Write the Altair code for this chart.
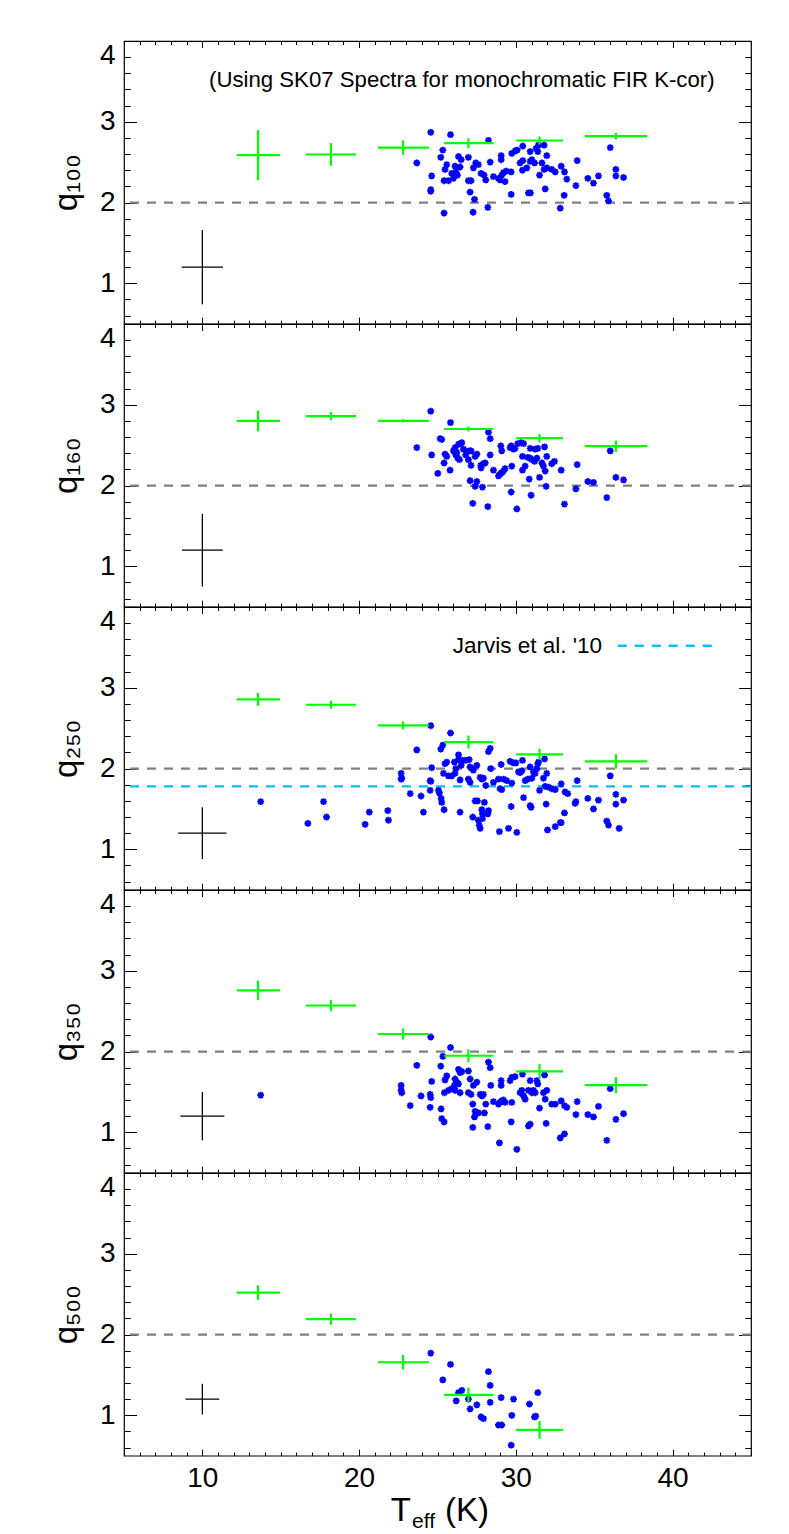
import altair as alt
import pandas as pd

FONT = "Liberation Sans"
W = 627
H = 282.7

T_DOMAIN = [5, 45]
Q_DOMAIN = [0.5, 4.0]
X_TICK_VALUES = list(range(5, 46))
X_LABEL_VALUES = [10, 20, 30, 40]
Y_TICK_VALUES = [0.6, 0.8, 1.0, 1.2, 1.4, 1.6, 1.8, 2.0, 2.2, 2.4, 2.6, 2.8,
                 3.0, 3.2, 3.4, 3.6, 3.8, 4.0]
Y_LABEL_VALUES = [1, 2, 3, 4]
PANEL_TITLES = ["q\u2081\u2080\u2080", "q\u2081\u2086\u2080", "q\u2082\u2085\u2080",
                "q\u2083\u2085\u2080", "q\u2085\u2080\u2080"]

# ---- individual galaxies (T_eff [K], q) ----
P1 = [(24.57, 2.87), (25.83, 2.84), (28.25, 2.77), (25.34, 2.65), (25.21, 2.56), (23.68, 2.49),
      (26.34, 2.57), (26.97, 2.56), (26.51, 2.53), (25.59, 2.47), (25.48, 2.41), (26.12, 2.45),
      (26.17, 2.38), (26.44, 2.44), (25.91, 2.36), (26.27, 2.34), (24.63, 2.33), (25.42, 2.27),
      (25.70, 2.27), (26.02, 2.30), (26.97, 2.27), (27.14, 2.27), (27.44, 2.49), (27.29, 2.43),
      (27.61, 2.47), (27.78, 2.36), (27.97, 2.34), (28.08, 2.28), (28.36, 2.50), (28.57, 2.32),
      (28.89, 2.30), (28.99, 2.28), (29.10, 2.34), (29.21, 2.37), (29.38, 2.39), (29.31, 2.26),
      (29.06, 2.53), (29.06, 2.58), (29.70, 2.38), (29.74, 2.61), (29.95, 2.64), (30.08, 2.65),
      (29.70, 2.10), (30.44, 2.70), (30.27, 2.49), (30.44, 2.52), (30.42, 2.40), (30.70, 2.43),
      (30.91, 2.63), (30.91, 2.51), (31.02, 2.53), (31.19, 2.49), (31.29, 2.67), (31.40, 2.63),
      (31.44, 2.71), (31.80, 2.71), (31.66, 2.49), (31.97, 2.58), (31.80, 2.41), (31.97, 2.43),
      (31.51, 2.34), (31.87, 2.17), (32.29, 2.41), (32.51, 2.38), (32.89, 2.45), (33.10, 2.38),
      (33.25, 2.29), (32.83, 1.93), (33.08, 2.09), (30.93, 2.12), (30.80, 2.12), (33.83, 2.21),
      (33.91, 2.52), (34.59, 2.30), (34.95, 2.24), (35.27, 2.33), (35.80, 2.09), (35.91, 2.02),
      (36.02, 2.68), (36.38, 2.41), (36.38, 2.33), (36.87, 2.31), (24.57, 2.16), (24.57, 2.14),
      (25.42, 1.87), (27.08, 2.13), (27.36, 2.04), (27.27, 1.88), (28.21, 1.94)]

P2 = [(24.57, 2.92), (25.83, 2.78), (28.25, 2.66), (28.36, 2.58), (23.68, 2.47), (25.17, 2.58),
      (25.27, 2.57), (24.63, 2.38), (25.02, 2.15), (25.42, 2.28), (25.48, 2.39), (25.59, 2.36),
      (25.80, 2.19), (26.02, 2.43), (26.12, 2.47), (26.17, 2.38), (26.29, 2.34), (26.34, 2.51),
      (26.44, 2.52), (26.55, 2.53), (26.23, 2.41), (26.40, 2.32), (26.66, 2.45), (26.80, 2.38),
      (27.02, 2.43), (27.14, 2.43), (26.97, 2.32), (27.14, 2.25), (27.51, 2.39), (27.40, 2.36),
      (27.78, 2.22), (27.93, 2.27), (27.76, 2.25), (28.04, 2.28), (28.36, 2.38), (28.57, 2.19),
      (28.89, 2.12), (28.99, 2.14), (29.10, 2.16), (29.21, 2.18), (29.31, 2.21), (29.74, 2.24),
      (29.04, 2.49), (29.10, 2.43), (29.63, 2.47), (29.70, 2.49), (29.85, 2.45), (29.95, 2.46),
      (30.12, 2.52), (30.34, 2.53), (30.49, 2.52), (30.42, 2.36), (30.42, 2.19), (30.59, 2.24),
      (30.76, 2.35), (30.91, 2.46), (30.91, 2.34), (31.02, 2.32), (31.23, 2.45), (31.40, 2.46),
      (31.34, 2.34), (31.19, 2.30), (31.51, 2.10), (31.66, 2.28), (31.76, 2.24), (31.87, 2.18),
      (31.97, 2.36), (31.83, 2.48), (32.29, 2.27), (32.46, 2.30), (32.89, 2.19), (33.91, 2.26),
      (30.85, 2.08), (31.93, 1.99), (27.08, 2.06), (27.40, 1.99), (27.51, 2.05), (27.87, 1.98),
      (29.70, 1.92), (30.97, 1.88), (27.25, 1.78), (28.21, 1.74), (30.06, 1.71), (33.10, 1.77),
      (33.83, 1.96), (34.59, 2.05), (34.95, 2.04), (35.80, 1.85), (36.02, 2.43), (36.38, 2.10),
      (36.87, 2.07)]

P3 = [(24.57, 2.53), (25.83, 2.44), (23.68, 2.23), (25.21, 2.24), (25.34, 2.29), (28.36, 2.25),
      (28.25, 2.21), (24.63, 2.01), (25.59, 2.08), (25.48, 2.06), (25.38, 1.94), (25.70, 1.91),
      (25.91, 1.91), (26.12, 1.94), (26.17, 2.00), (26.08, 2.08), (26.34, 2.17), (26.34, 2.11),
      (26.51, 2.04), (26.59, 2.10), (26.80, 2.10), (27.02, 2.11), (27.08, 2.02), (27.19, 2.00),
      (27.51, 2.04), (27.29, 1.98), (26.44, 1.86), (26.97, 1.87), (27.08, 1.83), (27.72, 1.89),
      (27.93, 1.88), (28.08, 1.79), (27.83, 1.87), (28.40, 2.00), (28.57, 1.83), (28.89, 1.87),
      (28.99, 1.75), (29.10, 1.74), (29.21, 1.87), (29.42, 1.85), (29.74, 1.82), (29.06, 2.05),
      (29.63, 2.09), (29.85, 2.07), (30.00, 2.07), (30.17, 1.96), (30.42, 2.10), (30.38, 1.97),
      (30.27, 1.95), (30.59, 1.85), (30.76, 1.87), (30.91, 2.02), (31.02, 1.88), (31.12, 1.96),
      (31.23, 1.94), (31.40, 2.06), (31.34, 2.00), (31.44, 2.08), (31.83, 2.12), (31.97, 1.94),
      (31.76, 1.88), (31.87, 1.78), (32.08, 1.77), (32.29, 1.75), (32.51, 1.74), (32.89, 1.81),
      (33.14, 1.71), (33.31, 1.69), (31.51, 1.73), (33.91, 1.85), (33.83, 1.59), (34.59, 1.63),
      (35.27, 1.61), (34.95, 1.50), (36.02, 1.91), (36.38, 1.68), (36.38, 1.56), (36.87, 1.61),
      (22.68, 1.94), (22.68, 1.87), (22.72, 1.88), (24.53, 1.85), (24.57, 1.84), (24.53, 1.73),
      (25.06, 1.73), (25.12, 1.70), (25.23, 1.63), (25.27, 1.58), (25.42, 1.49), (23.26, 1.69),
      (23.95, 1.66), (24.10, 1.46), (21.83, 1.48), (21.87, 1.36), (26.44, 1.46), (27.25, 1.40),
      (27.40, 1.60), (27.61, 1.36), (27.66, 1.30), (27.72, 1.26), (27.83, 1.49), (27.99, 1.58),
      (28.21, 1.44), (28.25, 1.48), (27.87, 1.44), (27.55, 1.60), (29.70, 1.53), (30.49, 1.64),
      (30.91, 1.54), (30.97, 1.52), (31.93, 1.56), (28.95, 1.22), (29.53, 1.26), (30.06, 1.21),
      (32.02, 1.24), (32.51, 1.28), (32.83, 1.33), (32.89, 1.33), (33.10, 1.45), (33.78, 1.57),
      (35.80, 1.35), (35.91, 1.30), (36.59, 1.26), (27.87, 1.38), (13.72, 1.59), (16.73, 1.32),
      (17.73, 1.59), (17.92, 1.40), (20.38, 1.31), (20.65, 1.46)]

P4 = [(24.57, 2.18), (25.83, 2.05), (25.34, 1.94), (23.68, 1.83), (25.21, 1.82), (28.25, 1.87),
      (28.36, 1.80), (26.34, 1.78), (26.44, 1.74), (26.55, 1.75), (26.97, 1.76), (25.59, 1.70),
      (25.48, 1.65), (26.12, 1.66), (26.23, 1.62), (26.34, 1.60), (26.08, 1.58), (24.63, 1.63),
      (25.44, 1.49), (25.70, 1.52), (25.91, 1.54), (26.12, 1.52), (26.44, 1.49), (27.08, 1.66),
      (27.29, 1.58), (27.51, 1.62), (26.97, 1.49), (27.14, 1.47), (27.25, 1.35), (27.72, 1.47),
      (27.83, 1.45), (27.93, 1.47), (28.08, 1.35), (28.40, 1.58), (28.57, 1.38), (28.89, 1.35),
      (28.99, 1.37), (29.10, 1.39), (29.21, 1.40), (29.31, 1.37), (29.74, 1.37), (29.06, 1.64),
      (29.06, 1.58), (29.63, 1.64), (29.74, 1.68), (29.95, 1.69), (30.42, 1.72), (30.27, 1.49),
      (30.38, 1.52), (30.49, 1.45), (30.59, 1.41), (30.91, 1.64), (30.80, 1.52), (31.02, 1.49),
      (31.12, 1.52), (31.23, 1.49), (31.40, 1.60), (31.34, 1.64), (31.83, 1.71), (31.97, 1.52),
      (31.76, 1.49), (31.87, 1.41), (32.29, 1.35), (32.51, 1.35), (32.89, 1.39), (33.10, 1.33),
      (33.25, 1.31), (31.51, 1.30), (33.91, 1.38), (33.83, 1.22), (34.59, 1.22), (34.95, 1.19),
      (35.27, 1.32), (36.02, 1.54), (36.38, 1.16), (36.87, 1.23), (22.68, 1.58), (22.68, 1.52),
      (22.72, 1.49), (23.26, 1.33), (23.95, 1.45), (24.53, 1.47), (24.57, 1.43), (24.53, 1.31),
      (25.23, 1.29), (25.27, 1.17), (25.42, 1.13), (27.40, 1.26), (27.61, 1.24), (27.99, 1.24),
      (27.36, 1.19), (27.25, 1.06), (28.21, 1.07), (29.70, 1.13), (30.91, 1.10), (30.80, 1.08),
      (31.93, 1.11), (28.95, 0.87), (30.06, 0.79), (32.83, 0.93), (33.10, 0.98), (35.80, 0.90),
      (13.72, 1.46)]

P5 = [(24.57, 1.77), (25.83, 1.63), (25.34, 1.44), (28.25, 1.54), (28.36, 1.37), (26.55, 1.31),
      (26.34, 1.28), (26.19, 1.18), (26.97, 1.20), (27.08, 1.08), (27.51, 1.13), (27.78, 0.98),
      (27.93, 0.96), (28.36, 1.16), (28.89, 0.88), (29.10, 0.88), (29.06, 1.22), (29.85, 1.20),
      (29.74, 1.00), (29.70, 0.63), (30.87, 1.14), (31.40, 1.28), (31.19, 0.98), (31.27, 0.99)]

# ---- binned means (green crosses) ----
BIN_T = [13.55, 18.2, 22.8, 26.97, 31.51, 36.38]
BIN_LO = [12.2, 16.6, 21.2, 25.42, 30.02, 34.4]
BIN_HI = [14.95, 19.8, 24.45, 28.57, 33.0, 38.38]
G_Q = [[2.586, 2.595, 2.68, 2.735, 2.768, 2.822],
       [2.80, 2.86, 2.80, 2.70, 2.586, 2.487],
       [2.856, 2.79, 2.534, 2.328, 2.175, 2.088],
       [2.757, 2.57, 2.217, 1.948, 1.754, 1.585],
       [2.52, 2.19, 1.657, 1.253, 0.819]]
G_E = [[0.31, 0.14, 0.09, 0.06, 0.05, 0.04],
       [0.13, 0.05, 0.02, 0.03, 0.05, 0.07],
       [0.08, 0.05, 0.05, 0.08, 0.07, 0.09],
       [0.12, 0.07, 0.07, 0.08, 0.09, 0.10],
       [0.09, 0.07, 0.09, 0.09, 0.11]]

# ---- typical error cross (black) ----
ERR_T = 10.0
ERR_Q = 1.2
ERR_DT = [1.32, 1.30, 1.54, 1.40, 1.08]
ERR_DQ = [0.46, 0.45, 0.32, 0.30, 0.19]

REF_Q = 2.0
JARVIS_Q = 1.78
NOTE_TEXT = "(Using SK07 Spectra for monochromatic FIR K-cor)"
NOTE_T, NOTE_Q = 26.55, 3.52
JARVIS_TEXT = "Jarvis et al. '10"
JARVIS_TEXT_T, JARVIS_Q_LEG = 35.5, 3.52
JARVIS_LEG_T = [36.5, 43.0]

BLUE = "#0000ff"
GREEN = "#00ff00"
GRAY = "#808080"
CYAN = "#00bfff"
AST = "M-1,0L1,0M0,-1L0,1M-0.72,-0.72L0.72,0.72M-0.72,0.72L0.72,-0.72"


def xs():
    return alt.Scale(domain=T_DOMAIN, nice=False, zero=False)


def ys():
    return alt.Scale(domain=Q_DOMAIN, nice=False, zero=False)


X_TICK = dict(values=X_TICK_VALUES, labels=False, domain=False, grid=False, title=None,
              tickColor="black", tickWidth=1,
              tickSize={"condition": {"test": "datum.value % 10 === 0", "value": 6.5}, "value": 3.5})
Y_TICK = dict(values=Y_TICK_VALUES, labels=False, domain=False, grid=False, title=None,
              tickColor="black", tickWidth=1,
              tickSize={"condition": {"test": "abs(datum.value - round(datum.value)) < 0.01",
                                      "value": 12.5}, "value": 6.3})


def panel(i, pts, last):
    n = len(G_Q[i])
    pts_df = pd.DataFrame(pts, columns=["T", "q"])
    bins = pd.DataFrame({"T": BIN_T[:n], "lo": BIN_LO[:n], "hi": BIN_HI[:n], "q": G_Q[i], "e": G_E[i]})
    bins["qlo"] = bins["q"] - bins["e"]
    bins["qhi"] = bins["q"] + bins["e"]
    err = pd.DataFrame({"T": [ERR_T], "q": [ERR_Q],
                        "lo": [ERR_T - ERR_DT[i]], "hi": [ERR_T + ERR_DT[i]],
                        "qlo": [ERR_Q - ERR_DQ[i]], "qhi": [ERR_Q + ERR_DQ[i]]})

    x_lab = alt.Axis(orient="bottom", values=X_LABEL_VALUES, format="d", ticks=False, domain=False,
                     grid=False, labelFont=FONT, labelFontSize=28, labelColor="black",
                     labelPadding=9, title=None) if last else None
    y_lab = alt.Axis(orient="left", values=Y_LABEL_VALUES, format="d", ticks=False, domain=False,
                     grid=False, labelFont=FONT, labelFontSize=28, labelColor="black",
                     labelPadding=9, labelFlush=True, labelOverlap=False,
                     title=PANEL_TITLES[i], titleFont=FONT, titleFontSize=33,
                     titleFontWeight="normal", titleColor="black", titlePadding=16)

    layers = []
    ref = alt.Chart(pd.DataFrame({"q": [REF_Q]})).mark_rule(
        color=GRAY, strokeWidth=2.3, strokeDash=[9, 8]).encode(
        y=alt.Y("q:Q", scale=ys(), axis=None))
    layers.append(ref)
    if i == 2:
        jar = alt.Chart(pd.DataFrame({"q": [JARVIS_Q]})).mark_rule(
            color=CYAN, strokeWidth=2.3, strokeDash=[9, 8]).encode(
            y=alt.Y("q:Q", scale=ys(), axis=None))
        jleg = alt.Chart(pd.DataFrame({"a": [JARVIS_LEG_T[0]], "b": [JARVIS_LEG_T[1]],
                                       "q": [JARVIS_Q_LEG]})).mark_rule(
            color=CYAN, strokeWidth=2.3, strokeDash=[9, 8]).encode(
            x=alt.X("a:Q", scale=xs(), axis=None), x2="b:Q",
            y=alt.Y("q:Q", scale=ys(), axis=None))
        jtxt = alt.Chart(pd.DataFrame({"T": [JARVIS_TEXT_T], "q": [JARVIS_Q_LEG],
                                       "t": [JARVIS_TEXT]})).mark_text(
            font=FONT, fontSize=22.5, align="right", baseline="middle", color="black").encode(
            x=alt.X("T:Q", scale=xs(), axis=None), y=alt.Y("q:Q", scale=ys(), axis=None), text="t:N")
        layers += [jar, jleg, jtxt]

    blue = alt.Chart(pts_df).mark_point(shape=AST, filled=False, size=46, strokeWidth=1.9,
                                        color=BLUE, opacity=1).encode(
        x=alt.X("T:Q", scale=xs(), axis=x_lab),
        y=alt.Y("q:Q", scale=ys(), axis=y_lab))
    layers.append(blue)

    hbar = alt.Chart(bins).mark_rule(color=GREEN, strokeWidth=2.2).encode(
        x=alt.X("lo:Q", scale=xs(), axis=alt.Axis(orient="top", offset=-H, **X_TICK)),
        x2="hi:Q",
        y=alt.Y("q:Q", scale=ys(), axis=alt.Axis(orient="right", offset=-W, **Y_TICK)))
    vbar = alt.Chart(bins).mark_rule(color=GREEN, strokeWidth=2.2).encode(
        x=alt.X("T:Q", scale=xs(), axis=alt.Axis(orient="bottom", offset=-H, **X_TICK)),
        y=alt.Y("qlo:Q", scale=ys(), axis=alt.Axis(orient="left", offset=-W, **Y_TICK)),
        y2="qhi:Q")
    layers += [hbar, vbar]

    eh = alt.Chart(err).mark_rule(color="black", strokeWidth=1.3).encode(
        x=alt.X("lo:Q", scale=xs(), axis=None), x2="hi:Q", y=alt.Y("q:Q", scale=ys(), axis=None))
    ev = alt.Chart(err).mark_rule(color="black", strokeWidth=1.3).encode(
        x=alt.X("T:Q", scale=xs(), axis=None), y=alt.Y("qlo:Q", scale=ys(), axis=None), y2="qhi:Q")
    layers += [eh, ev]

    if i == 0:
        note = alt.Chart(pd.DataFrame({"T": [NOTE_T], "q": [NOTE_Q], "t": [NOTE_TEXT]})).mark_text(
            font=FONT, fontSize=22.2, align="center", baseline="middle", color="black").encode(
            x=alt.X("T:Q", scale=xs(), axis=None), y=alt.Y("q:Q", scale=ys(), axis=None), text="t:N")
        layers.append(note)

    if last:
        tt = alt.Chart(pd.DataFrame({"t": ["T"]})).mark_text(
            font=FONT, fontSize=33, align="right", baseline="alphabetic", color="black").encode(
            x=alt.value(287), y=alt.value(H + 65), text="t:N")
        te = alt.Chart(pd.DataFrame({"t": ["eff"]})).mark_text(
            font=FONT, fontSize=21, align="left", baseline="alphabetic", color="black").encode(
            x=alt.value(288), y=alt.value(H + 72), text="t:N")
        tk = alt.Chart(pd.DataFrame({"t": ["(K)"]})).mark_text(
            font=FONT, fontSize=33, align="left", baseline="alphabetic", color="black").encode(
            x=alt.value(321), y=alt.value(H + 65), text="t:N")
        layers += [tt, te, tk]

    return alt.layer(*layers).properties(width=W, height=H).resolve_axis(
        x="independent", y="independent")


panels = [panel(k, p, k == 4) for k, p in enumerate([P1, P2, P3, P4, P5])]
chart = alt.vconcat(*panels, spacing=0, bounds="flush").configure_view(
    stroke="black", strokeWidth=1.2).properties(
    padding={"left": 41, "top": 31, "right": 10, "bottom": 0}, background="white")

chart.save("out.html", embed_options={"renderer": "svg", "actions": False})
